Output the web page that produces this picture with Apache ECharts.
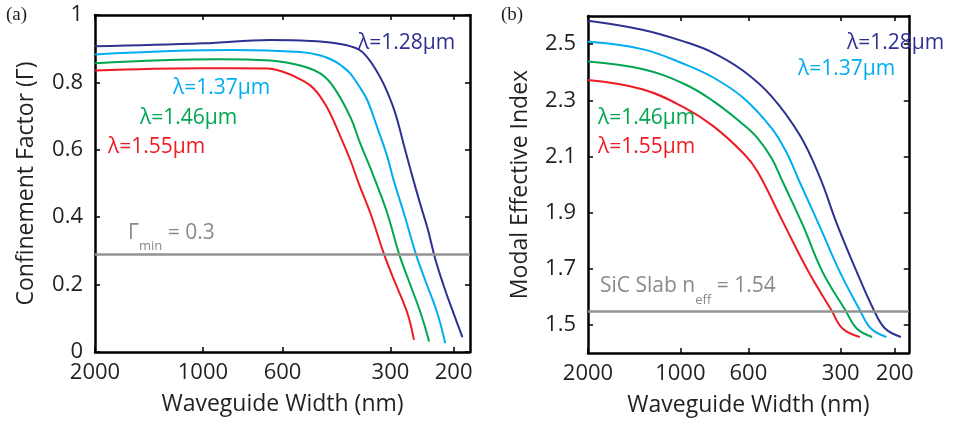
<!DOCTYPE html>
<html><head><meta charset="utf-8">
<script src="https://cdn.jsdelivr.net/npm/echarts@6/dist/echarts.min.js"></script>
<style>html,body{margin:0;padding:0;background:#fff}#c{width:967px;height:425px}</style>
</head><body><div id="c"></div>
<script>
// ---- axis ticks ----
const widthTicks = [2000, 1000, 600, 300, 200];
const gammaTicks = [0, 0.2, 0.4, 0.6, 0.8, 1];
const neffTicks = [1.5, 1.7, 1.9, 2.1, 2.3, 2.5];
const gammaMin = 0.295;
const slabNeff = 1.55;

// ---- panel (a): confinement factor ----
const gW128 = [2000, 998, 649, 502, 414, 368, 348, 330, 312, 292, 276, 262, 249, 236, 225, 213, 203, 189];
const gV128 = [0.907, 0.916, 0.926, 0.923, 0.914, 0.898, 0.874, 0.839, 0.791, 0.714, 0.619, 0.530, 0.447, 0.364, 0.276, 0.196, 0.133, 0.044];
const gW137 = [2000, 823, 535, 470, 433, 408, 388, 368, 348, 327, 306, 294, 275, 255, 240, 222, 211];
const gV137 = [0.883, 0.896, 0.890, 0.880, 0.865, 0.847, 0.826, 0.791, 0.747, 0.668, 0.579, 0.510, 0.411, 0.292, 0.213, 0.115, 0.026];
const gW146 = [2000, 912, 649, 535, 470, 432, 388, 364, 341, 327, 306, 284, 267, 247, 234];
const gV146 = [0.857, 0.869, 0.865, 0.850, 0.826, 0.786, 0.697, 0.618, 0.545, 0.495, 0.411, 0.292, 0.213, 0.115, 0.031];
const gW155 = [2000, 1018, 662, 593, 535, 491, 451, 414, 388, 368, 341, 313, 293, 269, 258];
const gV155 = [0.835, 0.842, 0.841, 0.830, 0.809, 0.782, 0.726, 0.640, 0.569, 0.501, 0.411, 0.292, 0.213, 0.115, 0.036];

// ---- panel (b): modal effective index ----
const nW128 = [2000, 1331, 967, 781, 624, 505, 408, 351, 309, 266, 234, 215, 191];
const nV128 = [2.583, 2.551, 2.508, 2.469, 2.405, 2.315, 2.176, 2.026, 1.861, 1.689, 1.553, 1.487, 1.457];
const nW137 = [2000, 1331, 967, 781, 624, 505, 453, 408, 351, 302, 260, 239, 213];
const nV137 = [2.508, 2.482, 2.428, 2.381, 2.309, 2.202, 2.119, 2.008, 1.850, 1.689, 1.553, 1.487, 1.457];
const nW146 = [2000, 1331, 967, 781, 624, 561, 505, 463, 399, 344, 290, 266, 237];
const nV146 = [2.438, 2.411, 2.357, 2.297, 2.214, 2.166, 2.095, 2.008, 1.856, 1.689, 1.553, 1.487, 1.457];
const nW155 = [2000, 1331, 967, 781, 624, 561, 463, 382, 322, 296, 260];
const nV155 = [2.372, 2.339, 2.273, 2.208, 2.112, 2.047, 1.867, 1.689, 1.553, 1.487, 1.457];

const C128 = '#2e3192', C137 = '#00aeef', C146 = '#00a651', C155 = '#ed1c24', GRAY = '#939393';
const FONT = '"Open Sans", "DejaVu Sans", sans-serif';

const pair = (w, v) => w.map((x, i) => [x, v[i]]);

function xAx(grid, pos, labels) {
  return {
    type: 'log', gridIndex: grid, position: pos, min: 180, max: 2000, inverse: true,
    name: labels ? 'Waveguide Width (nm)' : '', nameLocation: 'middle', nameGap: 41,
    nameTextStyle: {fontFamily: FONT, fontSize: 23, color: '#231f20'},
    axisLine: {show: true, onZero: false, lineStyle: {color: '#000', width: 2.5}},
    axisTick: {show: true, inside: true, length: 5, customValues: widthTicks, lineStyle: {color: '#000', width: 1.5}},
    axisLabel: {show: labels, customValues: widthTicks, margin: 10, fontFamily: FONT, fontSize: 22, color: '#231f20',
      formatter: v => String(Math.round(v))},
    splitLine: {show: false}, minorTick: {show: false}
  };
}
function yAx(grid, pos, labels, name, min, max, ticks, gap) {
  return {
    type: 'value', gridIndex: grid, position: pos, min: min, max: max,
    name: labels ? name : '', nameLocation: 'middle', nameGap: gap,
    nameTextStyle: {fontFamily: FONT, fontSize: 23, color: '#231f20'},
    axisLine: {show: true, onZero: false, lineStyle: {color: '#000', width: 2.5}},
    axisTick: {show: true, inside: true, length: 5, customValues: ticks, lineStyle: {color: '#000', width: 1.5}},
    axisLabel: {show: labels, customValues: ticks, margin: 12, fontFamily: FONT, fontSize: 22, color: '#231f20'},
    splitLine: {show: false}
  };
}
function line(data, color, xi, yi, extra) {
  return Object.assign({
    type: 'line', data: data, xAxisIndex: xi, yAxisIndex: yi, smooth: 0.4,
    showSymbol: false, symbol: 'none', lineStyle: {color: color, width: 2}, silent: true, z: 3
  }, extra || {});
}
function refLine(val) {
  return {silent: true, symbol: 'none', label: {show: false},
    lineStyle: {color: GRAY, width: 2.5, type: 'solid'}, data: [{yAxis: val}]};
}
function txt(x, y, text, color, size, rich) {
  return {type: 'text', x: x, y: y, z: 100, style: {
    text: text, fill: color, font: size + 'px ' + FONT, fontFamily: FONT, fontSize: size,
    textAlign: 'left', textVerticalAlign: 'middle', verticalAlign: 'middle', rich: rich
  }};
}
function subRich(color, lh, sh) {
  return {m: {fontSize: 21, fontFamily: FONT, color: color, lineHeight: lh},
          s: {fontSize: 13, fontFamily: FONT, color: color, lineHeight: sh, verticalAlign: 'bottom'}};
}

const chart = echarts.init(document.getElementById('c'), null, {renderer: 'canvas'});
chart.setOption({
  animation: false,
  backgroundColor: '#fff',
  grid: [
    {left: 95, right: 497, top: 15, bottom: 73},
    {left: 588, right: 3, top: 16, bottom: 72}
  ],
  xAxis: [xAx(0, 'bottom', true), xAx(0, 'top', false), xAx(1, 'bottom', true), xAx(1, 'top', false)],
  yAxis: [
    Object.assign(yAx(0, 'left', true, 'Confinement Factor (Γ)', 0, 1, gammaTicks, 57), {interval: 0.2}),
    yAx(0, 'right', false, '', 0, 1, gammaTicks, 0),
    yAx(1, 'left', true, 'Modal Effective Index', 1.4, 2.6, neffTicks, 56),
    yAx(1, 'right', false, '', 1.4, 2.6, neffTicks, 0)
  ],
  series: [
    line(pair(gW155, gV155), C155, 0, 0, {markLine: refLine(gammaMin)}),
    line(pair(gW146, gV146), C146, 0, 0),
    line(pair(gW137, gV137), C137, 0, 0),
    line(pair(gW128, gV128), C128, 0, 0),
    line(pair(nW155, nV155), C155, 2, 2, {markLine: refLine(slabNeff)}),
    line(pair(nW146, nV146), C146, 2, 2),
    line(pair(nW137, nV137), C137, 2, 2),
    line(pair(nW128, nV128), C128, 2, 2)
  ],
  graphic: [
    {type: 'text', x: 6, y: 15, style: {text: '(a)', font: '19px "Liberation Serif", serif', fill: '#231f20', textVerticalAlign: 'middle', verticalAlign: 'middle'}},
    {type: 'text', x: 501, y: 15, style: {text: '(b)', font: '19px "Liberation Serif", serif', fill: '#231f20', textVerticalAlign: 'middle', verticalAlign: 'middle'}},
    txt(358, 43, 'λ=1.28μm', C128, 21),
    txt(173, 88, 'λ=1.37μm', C137, 21),
    txt(140, 118, 'λ=1.46μm', C146, 21),
    txt(108, 147, 'λ=1.55μm', C155, 21),
    txt(128, 233, '{m|Γ}{s|min}{m| = 0.3}', '#8a8a8a', 21, subRich('#8a8a8a', 40, 20)),
    txt(847, 43, 'λ=1.28μm', C128, 21),
    txt(798, 69, 'λ=1.37μm', C137, 21),
    txt(598, 118, 'λ=1.46μm', C146, 21),
    txt(598, 147, 'λ=1.55μm', C155, 21),
    txt(600, 286, '{m|SiC Slab n}{s|eff}{m| = 1.54}', '#8a8a8a', 21, subRich('#8a8a8a', 42, 18))
  ]
});
</script></body></html>
